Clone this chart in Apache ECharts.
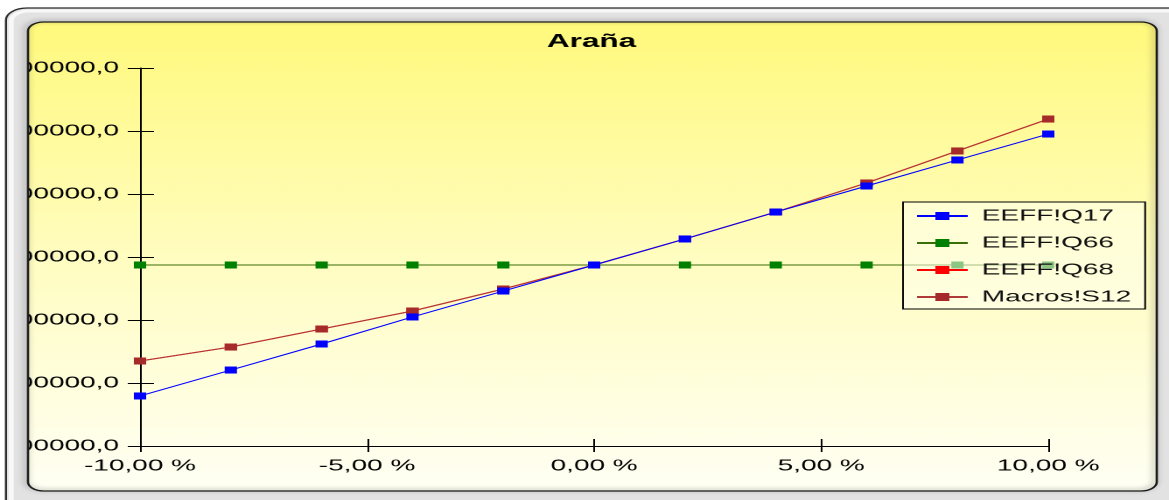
<!DOCTYPE html>
<html>
<head>
<meta charset="utf-8">
<script src="https://cdn.jsdelivr.net/npm/echarts@6/dist/echarts.min.js"></script>
<style>
  html, body { margin: 0; padding: 0; background: #ffffff; overflow: hidden; }
  /* the chart is laid out narrow and widened horizontally */
  #chart { width: 668px; height: 500px; transform: scaleX(1.75); transform-origin: 0 0; }
</style>
</head>
<body>
<div id="chart"></div>
<script>
// Variación (%) en el eje X
const variaciones = [-10, -8, -6, -4, -2, 0, 2, 4, 6, 8, 10];

// Series
const eeffQ17   = [1279400, 1320600, 1361900, 1404800, 1446000, 1487300, 1528600, 1571400, 1612700, 1654000, 1695200];
const eeffQ66   = [1487300, 1487300, 1487300, 1487300, 1487300, 1487300, 1487300, 1487300, 1487300, 1487300, 1487300];
const eeffQ68   = [1334900, 1357100, 1385700, 1414300, 1449200, 1487300, 1528600, 1571400, 1617500, 1668300, 1719000];
const macrosS12 = [1334900, 1357100, 1385700, 1414300, 1449200, 1487300, 1528600, 1571400, 1617500, 1668300, 1719000];

const seriesNames = ['EEFF!Q17', 'EEFF!Q66', 'EEFF!Q68', 'Macros!S12'];

// Escalas
const xMin = -10, xMax = 10, xStep = 5;
const yMin = 1200000, yMax = 1800000, yStep = 100000;

const W = 668, H = 500;
const gridLeft = 80, gridRight = 69, gridTop = 68, gridBottom = 54;

const FONT = '"Liberation Sans", Arial, sans-serif';

function pairs(vals) { return variaciones.map((x, i) => [x, vals[i]]); }

// marco exterior e interior
const outer = { x: 3.4, y: 8, w: 720, h: 540, r: 12 };
const inner = { x: 16, y: 22, w: 645, h: 469, r: 9 };

// región entre la esquina superior izquierda del marco exterior y su curva
function cornerPoints(o) {
  const pts = [[o.x, o.y]];
  for (let i = 0; i <= 12; i++) {
    const a = Math.PI + (Math.PI / 2) * (i / 12);
    pts.push([o.x + o.r + o.r * Math.cos(a), o.y + o.r + o.r * Math.sin(a)]);
  }
  return pts;
}

const FRAME = '#e2e2e2';
const frameRect = (x, y, w, h) => ({
  type: 'rect', z: 99, silent: true,
  shape: { x: x, y: y, width: w, height: h },
  style: { fill: FRAME }
});
const whiteRect = (x, y, w, h) => ({
  type: 'rect', z: 100, silent: true,
  shape: { x: x, y: y, width: w, height: h },
  style: { fill: '#ffffff' }
});

const chart = echarts.init(document.getElementById('chart'), null, { devicePixelRatio: 2 });

const lineSeries = (name, vals, color, lineColor, z) => ({
  name: name,
  type: 'line',
  data: pairs(vals),
  symbol: 'rect',
  symbolSize: 7,
  showSymbol: true,
  z: z,
  lineStyle: { color: lineColor, width: 1 },
  itemStyle: { color: color },
  emphasis: { disabled: true },
  animation: false
});

const valueFmt = v => v.toFixed(1).replace('.', ',');
const pctFmt = v => v.toFixed(2).replace('.', ',') + ' %';

const tickStyle = { color: '#000', width: 1 };

chart.setOption({
  animation: false,
  title: {
    text: 'Araña',
    left: 338,
    textAlign: 'center',
    top: 33,
    padding: 0,
    textStyle: { fontFamily: FONT, fontSize: 18, fontWeight: 'bold', color: '#000' }
  },
  legend: {
    data: seriesNames,
    orient: 'vertical',
    left: 516,
    top: 202,
    padding: [6, 8, 4, 7],
    itemGap: 11,
    itemWidth: 29,
    itemHeight: 10,
    z: 6,
    backgroundColor: 'rgba(255,255,238,0.55)',
    borderColor: '#000',
    borderWidth: 1,
    borderRadius: 0,
    selectedMode: false,
    textStyle: { fontFamily: FONT, fontSize: 16, color: '#111', padding: [0, 0, 0, 3] }
  },
  grid: {
    left: gridLeft, right: gridRight, top: gridTop, bottom: gridBottom,
    containLabel: false,
    outerBoundsMode: 'none'
  },
  xAxis: [
    {
      type: 'value', min: xMin, max: xMax, interval: xStep, position: 'bottom',
      axisLine: { show: true, onZero: false, lineStyle: { color: '#000', width: 1 } },
      axisTick: { show: true, length: 6, lineStyle: tickStyle },
      axisLabel: { margin: 12, formatter: pctFmt, fontFamily: FONT, fontSize: 16, color: '#000' },
      splitLine: { show: false }
    },
    {
      // marcas hacia el interior, para que crucen el eje
      type: 'value', min: xMin, max: xMax, interval: xStep, position: 'bottom',
      axisLine: { show: false, onZero: false },
      axisTick: { show: true, inside: true, length: 7, lineStyle: tickStyle },
      axisLabel: { show: false },
      splitLine: { show: false }
    }
  ],
  yAxis: [
    {
      type: 'value', min: yMin, max: yMax, interval: yStep, position: 'left',
      axisLine: { show: true, onZero: false, lineStyle: { color: '#000', width: 1 } },
      axisTick: { show: true, length: 7, lineStyle: tickStyle },
      axisLabel: { margin: 12, formatter: valueFmt, fontFamily: FONT, fontSize: 16, color: '#000' },
      splitLine: { show: false }
    },
    {
      type: 'value', min: yMin, max: yMax, interval: yStep, position: 'left',
      axisLine: { show: false, onZero: false },
      axisTick: { show: true, inside: true, length: 8, lineStyle: tickStyle },
      axisLabel: { show: false },
      splitLine: { show: false }
    }
  ],
  graphic: [
    // fondo gris del marco
    {
      type: 'rect', z: -20, silent: true,
      shape: { x: 0, y: 0, width: W, height: H },
      style: { fill: FRAME }
    },
    // fondo amarillo del área del gráfico
    {
      type: 'rect', z: -10, silent: true,
      shape: { x: inner.x, y: inner.y, width: inner.w, height: inner.h, r: inner.r },
      style: {
        fill: new echarts.graphic.LinearGradient(0, 0, 0, 1, [
          { offset: 0, color: '#fff97c' },
          { offset: 0.5, color: '#fffdc0' },
          { offset: 1, color: '#fffff4' }
        ])
      }
    },
    // bandas del marco que tapan lo que sobresale del área
    frameRect(0, 0, inner.x, H),
    frameRect(inner.x + inner.w, 0, W - inner.x - inner.w, H),
    frameRect(0, 0, W, inner.y),
    frameRect(0, inner.y + inner.h, W, H - inner.y - inner.h),
    // exterior blanco
    whiteRect(0, 0, outer.x, H),
    whiteRect(0, 0, W, outer.y),
    {
      type: 'polygon', z: 100, silent: true,
      shape: { points: cornerPoints(outer) },
      style: { fill: '#ffffff' }
    },
    // brillo del marco
    {
      type: 'rect', z: 100, silent: true,
      shape: { x: outer.x + 3, y: outer.y + 3, width: outer.w, height: outer.h, r: outer.r - 2 },
      style: { fill: null, stroke: '#f8f8f8', lineWidth: 3 }
    },
    {
      type: 'rect', z: 101, silent: true,
      shape: { x: outer.x, y: outer.y, width: outer.w, height: outer.h, r: outer.r },
      style: { fill: null, stroke: '#2a2a2a', lineWidth: 1.2 }
    },
    {
      type: 'rect', z: 101, silent: true,
      shape: { x: inner.x, y: inner.y, width: inner.w, height: inner.h, r: inner.r },
      style: { fill: null, stroke: '#1a1a1a', lineWidth: 1.3, shadowColor: 'rgba(0,0,0,0.45)', shadowBlur: 4, shadowOffsetX: -1, shadowOffsetY: -1 }
    }
  ],
  series: [
    lineSeries(seriesNames[0], eeffQ17, '#0000ff', '#0000ff', 5),
    lineSeries(seriesNames[1], eeffQ66, '#008000', '#3a6e08', 4),
    lineSeries(seriesNames[2], eeffQ68, '#ff0000', '#ff0000', 2),
    lineSeries(seriesNames[3], macrosS12, '#a52a2a', '#b03a3a', 3)
  ]
});
</script>
</body>
</html>
